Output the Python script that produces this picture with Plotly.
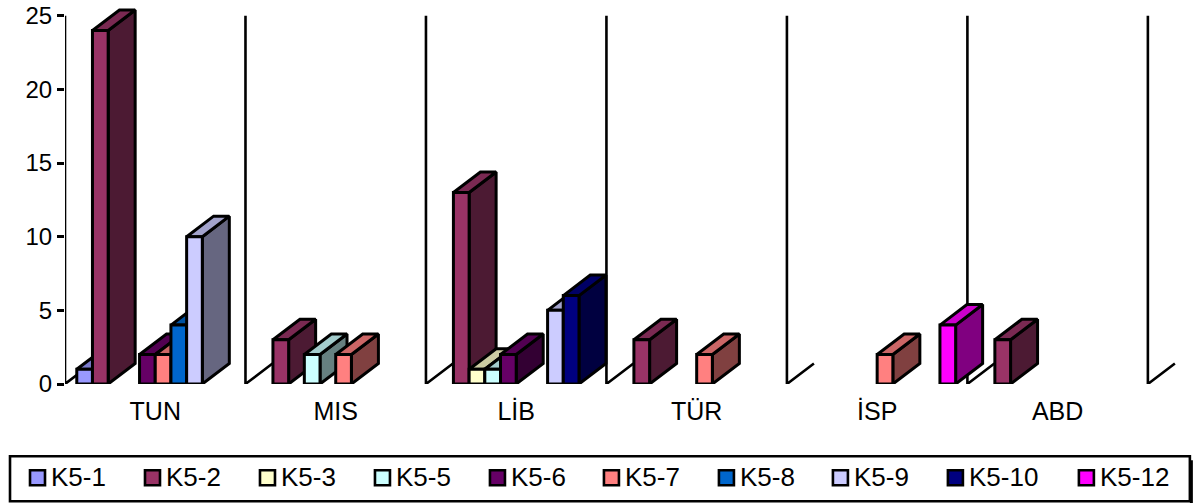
import plotly.graph_objects as go

categories = ["TUN", "MIS", "LİB", "TÜR", "İSP", "ABD"]
y_ticks = [0, 5, 10, 15, 20, 25]

# One value per country; 0 means no bar is drawn.
k5_1 = [1, 0, 0, 0, 0, 0]
k5_2 = [24, 3, 13, 3, 0, 3]
k5_3 = [0, 0, 1, 0, 0, 0]
k5_5 = [0, 2, 1, 0, 0, 0]
k5_6 = [2, 0, 2, 0, 0, 0]
k5_7 = [2, 2, 0, 2, 2, 0]
k5_8 = [4, 0, 0, 0, 0, 0]
k5_9 = [10, 0, 5, 0, 0, 0]
k5_10 = [0, 0, 6, 0, 0, 0]
k5_12 = [0, 0, 0, 0, 4, 0]

series_names = ["K5-1", "K5-2", "K5-3", "K5-5", "K5-6", "K5-7", "K5-8", "K5-9", "K5-10", "K5-12"]
series_values = [k5_1, k5_2, k5_3, k5_5, k5_6, k5_7, k5_8, k5_9, k5_10, k5_12]
series_colors = ["#9999FF", "#993366", "#FFFFCC", "#CCFFFF", "#660066",
                 "#FF8080", "#0066CC", "#CCCCFF", "#000080", "#FF00FF"]

FONT = "Liberation Sans"
WIDTH, HEIGHT = 1198, 503
LEFT, FLOOR = 65, 383.8
UNIT_X = 180.5   # pixels per category
UNIT_Y = 14.72   # pixels per count
X_MAX, Y_MAX = 6.25, 26  # head room so the depth edges stay inside the axis ranges
RIGHT = LEFT + X_MAX * UNIT_X
TOP = FLOOR - Y_MAX * UNIT_Y

# Oblique projection: depth offset expressed in axis units.
DEPTH_X = 27 / UNIT_X
DEPTH_Y = 20.5 / UNIT_Y
BAR_W = 1 / 11.5
BAR_GAP = 0.75 * BAR_W


def shade(color, factor):
    r, g, b = (int(color[i:i + 2], 16) for i in (1, 3, 5))
    return f"rgb({round(r * factor)},{round(g * factor)},{round(b * factor)})"


def polygons(faces):
    xs, ys = [], []
    for face in faces:
        xs += [p[0] for p in face] + [face[0][0], None]
        ys += [p[1] for p in face] + [face[0][1], None]
    return xs, ys


fig = go.Figure()

# Walls between the categories with their floor edges.
wall_x, wall_y = [], []
for i in range(len(categories) + 1):
    wall_x += [i + DEPTH_X, i, i, None]
    wall_y += [DEPTH_Y, 0, 25, None]
fig.add_trace(go.Scatter(x=wall_x, y=wall_y, mode="lines", cliponaxis=False,
                         line=dict(color="black", width=2.6), hoverinfo="skip", showlegend=False))

# Bars are painted series by series so nearer faces cover earlier ones.
for k, (name, values, color) in enumerate(zip(series_names, series_values, series_colors)):
    side, top, front = [], [], []
    for i, v in enumerate(values):
        if not v:
            continue
        x0 = i + BAR_GAP + k * BAR_W
        x1 = x0 + BAR_W
        front.append([(x0, 0), (x1, 0), (x1, v), (x0, v)])
        side.append([(x1, 0), (x1 + DEPTH_X, DEPTH_Y), (x1 + DEPTH_X, v + DEPTH_Y), (x1, v)])
        top.append([(x0, v), (x1, v), (x1 + DEPTH_X, v + DEPTH_Y), (x0 + DEPTH_X, v + DEPTH_Y)])
    for faces, factor in ((side, 0.5), (top, 0.8), (front, 1.0)):
        xs, ys = polygons(faces)
        fig.add_trace(go.Scatter(x=xs, y=ys, mode="lines", fill="toself", name=name,
                                 fillcolor=shade(color, factor), cliponaxis=False,
                                 line=dict(color="black", width=3), showlegend=False))


def px_x(p):
    return (p - LEFT) / (RIGHT - LEFT)


def px_y(p):
    return (FLOOR - p) / (FLOOR - TOP)


def paper_rect(x0, y0, x1, y1, **kw):
    return dict(type="rect", xref="paper", yref="paper",
                x0=px_x(x0), x1=px_x(x1), y0=px_y(y1), y1=px_y(y0), **kw)


# Framed key below the plot, with a drop shadow on its right edge.
shapes = [
    paper_rect(1190, 460, 1193, 503, fillcolor="black", line=dict(width=0)),
    paper_rect(10, 456, 1190, 501, fillcolor="white", line=dict(color="black", width=2.6)),
]
annotations = []
key_x = [30, 145, 260, 375, 490, 604, 719, 833, 948, 1079]
for name, color, x in zip(series_names, series_colors, key_x):
    shapes.append(paper_rect(x, 470, x + 15, 485, fillcolor=color, line=dict(color="black", width=2.6)))
    annotations.append(dict(xref="paper", yref="paper", x=px_x(x + 19), y=px_y(477), text=name,
                            showarrow=False, xanchor="left", yanchor="middle",
                            font=dict(family=FONT, size=26, color="black")))

fig.update_layout(
    width=WIDTH, height=HEIGHT, autosize=False,
    margin=dict(l=LEFT, r=WIDTH - RIGHT, t=TOP, b=HEIGHT - FLOOR, autoexpand=False),
    paper_bgcolor="white", plot_bgcolor="white", showlegend=False,
    shapes=shapes, annotations=annotations,
    font=dict(family=FONT, size=25, color="black"),
)
fig.update_xaxes(range=[0, X_MAX], tickmode="array", automargin=False,
                 tickvals=[i + 0.5 for i in range(len(categories))], ticktext=categories,
                 showgrid=False, zeroline=False, showline=False, ticks="outside",
                 ticklen=5, tickcolor="rgba(0,0,0,0)", tickfont=dict(family=FONT, size=25))
fig.update_yaxes(range=[0, Y_MAX], tickmode="array", tickvals=y_ticks, automargin=False,
                 showgrid=False, zeroline=False, showline=False, ticks="outside",
                 ticklen=7, tickwidth=2.6, tickcolor="black", tickfont=dict(family=FONT, size=24))

fig.write_html("out.html", config=dict(displayModeBar=False))
